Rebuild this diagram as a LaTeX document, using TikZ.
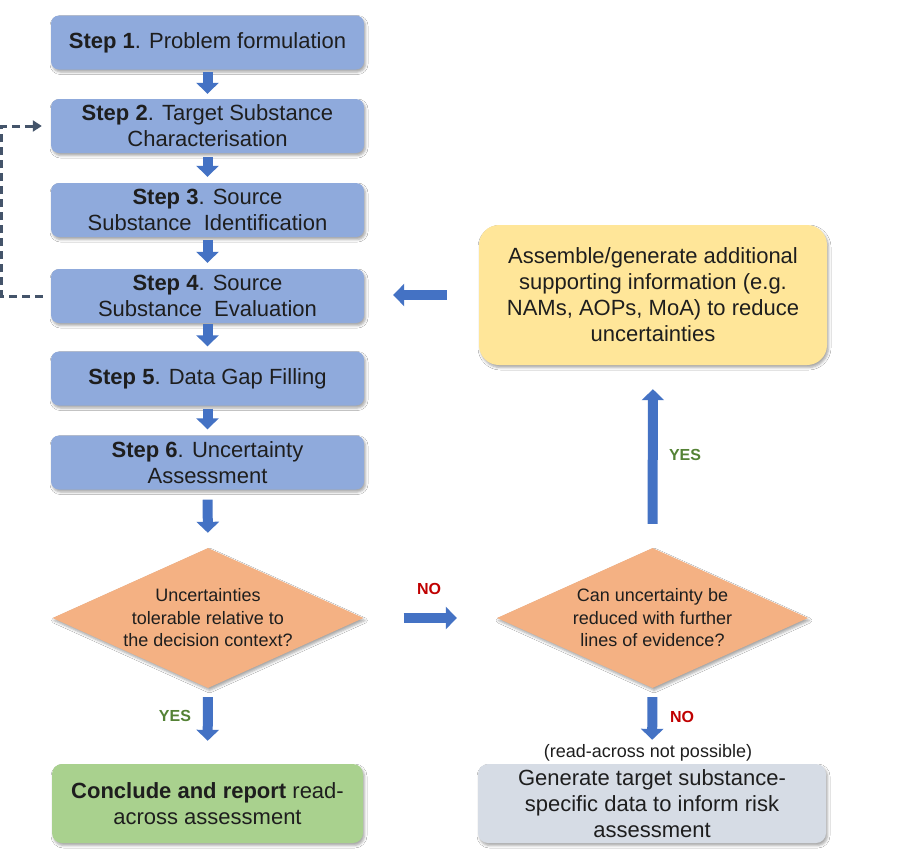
\documentclass[tikz,border=0pt]{standalone}
\usepackage{fontspec}
\setmainfont{Liberation Sans}
\usetikzlibrary{arrows.meta,shapes.geometric,shadows.blur}
\definecolor{stepc}{HTML}{8FAADC}
\definecolor{diac}{HTML}{F4B183}
\definecolor{yelc}{HTML}{FFE699}
\definecolor{grnc}{HTML}{A9D18E}
\definecolor{gryc}{HTML}{D6DCE5}
\definecolor{arrc}{HTML}{4472C4}
\definecolor{dashc}{HTML}{44546A}
\definecolor{txtc}{HTML}{1E1E1E}
\definecolor{yesc}{HTML}{548235}
\definecolor{noc}{HTML}{C00000}
\tikzset{
  shad/.style={blur shadow={shadow xshift=1.5pt, shadow yshift=-2.5pt, shadow blur radius=2.5pt, shadow opacity=35}},
  stepbox/.style={shad, fill=stepc, rounded corners=8pt, minimum width=313pt, minimum height=54pt,
    inner sep=0pt, align=center, text=txtc, font=\fontsize{22}{26}\selectfont},
  bigbox/.style={shad, rounded corners=10pt, minimum height=79pt, inner sep=0pt,
    align=center, text=txtc, font=\fontsize{22}{26}\selectfont},
  dia/.style={shad, diamond, fill=diac, minimum width=311pt, minimum height=140pt, inner sep=0pt},
  dtext/.style={align=center, text=txtc, inner sep=0pt, font=\fontsize{18}{22.5}\selectfont},
  barrow/.style={draw=arrc, line width=10pt, -{Triangle[width=22pt,length=11pt]}},
  dasharrow/.style={draw=dashc, line width=3pt, dash pattern=on 8pt off 5pt,
    -{Triangle[width=11pt,length=9pt]}},
  yeslab/.style={text=yesc, font=\bfseries\fontsize{16}{19}\selectfont, inner sep=0pt},
  nolab/.style={text=noc, font=\bfseries\fontsize{16}{19}\selectfont, inner sep=0pt},
}
\begin{document}
\begin{tikzpicture}[x=1pt,y=-1pt]
\useasboundingbox[fill=white] (0,0) rectangle (910,852);

% steps
\node[stepbox] (s1) at (207.5,42.5) {\textbf{Step 1}. Problem formulation};
\node[stepbox] (s2) at (207.5,126) {\textbf{Step 2}. Target Substance\\Characterisation};
\node[stepbox] (s3) at (207.5,210) {\textbf{Step 3}. Source\\Substance\ \ Identification};
\node[stepbox] (s4) at (207.5,296) {\textbf{Step 4}. Source\\Substance\ \ Evaluation};
\node[stepbox] (s5) at (207.5,378.5) {\textbf{Step 5}. Data Gap Filling};
\node[stepbox] (s6) at (207.5,462.5) {\textbf{Step 6}. Uncertainty\\Assessment};

% decisions
\node[dia] (d1) at (208,618) {};
\node[dtext] (d1t) at (d1) {Uncertainties\\tolerable relative to\\the decision context?};
\node[dia] (d2) at (652.5,618) {};
\node[dtext] (d2t) at (d2) {Can uncertainty be\\reduced with further\\lines of evidence?};

% other boxes
\node[bigbox, fill=yelc, rounded corners=20pt, minimum width=348pt, minimum height=140pt] (yel) at (653,295)
  {Assemble/generate additional\\supporting information (e.g.\\NAMs, AOPs, MoA) to reduce\\uncertainties};
\node[bigbox, fill=grnc, minimum width=311pt] (grn) at (207.5,803.5)
  {\textbf{Conclude and report} read-\\across assessment};
\node[bigbox, fill=gryc, minimum width=348pt] (gry) at (652,803.5)
  {Generate target substance-\\specific data to inform risk\\assessment};

% step arrows
\draw[barrow, shorten <=2.5pt, shorten >=5pt] (s1) -- (s2);
\draw[barrow, shorten <=4pt, shorten >=6pt] (s2) -- (s3);
\draw[barrow, shorten <=3pt, shorten >=6pt] (s3) -- (s4);
\draw[barrow, shorten <=1pt, shorten >=5pt] (s4) -- (s5);
\draw[barrow, shorten <=3pt, shorten >=6pt] (s5) -- (s6);
\draw[barrow, shorten <=10pt, shorten >=15pt] (s6.south) -- (d1.north);

% decision arrows
\draw[barrow, shorten <=9pt, shorten >=23pt] (d1.south) -- (grn.north);
\draw[barrow, shorten <=40pt, shorten >=40pt] (d1.east) -- (d2.west);
\draw[barrow, shorten <=24pt, shorten >=24pt] (d2.north) -- (yel.south);
\draw[barrow, shorten <=32pt, shorten >=29pt] (yel.west) -- (yel.west -| s4.east);
\draw[barrow, shorten <=9pt, shorten >=24pt] (d2.south) -- (gry.north);

% labels
\node[nolab] (no1) at (429,589) {NO};
\node[yeslab] (yes1) at (175,716) {YES};
\node[yeslab] (yes2) at (685,455) {YES};
\node[nolab] (no2) at (682,717) {NO};
\node[dtext] (rna) at (648,753) {(read-across not possible)};

% dashed feedback
\coordinate (lx) at (1.8,0);
\draw[dasharrow, shorten <=8pt, shorten >=9pt] (s4.west) -- (s4.west -| lx) |- (s2.west);
\end{tikzpicture}
\end{document}
